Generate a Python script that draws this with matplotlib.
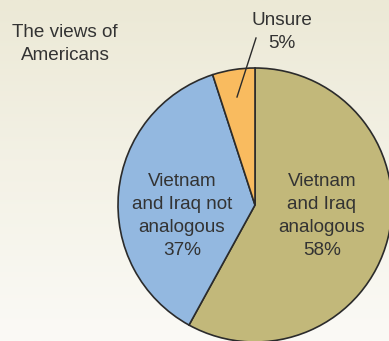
import numpy as np
import matplotlib.pyplot as plt

labels = ["Vietnam\nand Iraq\nanalogous\n58%", "Vietnam\nand Iraq not\nanalogous\n37%", "Unsure\n5%"]
shares = [58, 37, 5]
colors = ["#C2B87A", "#93B8E0", "#F9BB5F"]

W, H = 389, 341
fig = plt.figure(figsize=(W / 100, H / 100), dpi=100)

# background gradient
bg = fig.add_axes([0, 0, 1, 1])
grad = np.linspace(0, 1, 256).reshape(-1, 1)
top = np.array([236, 233, 214]) / 255
bot = np.array([251, 250, 246]) / 255
img = top + (bot - top) * grad[:, :, None]
bg.imshow(img, aspect="auto", extent=[0, 1, 0, 1])
bg.axis("off")

ax = fig.add_axes([0, 0, 1, 1])
ax.patch.set_alpha(0)
cx, cy, r = 255, H - 205, 137
ax.pie(shares, colors=colors, startangle=90, counterclock=False,
       center=(cx, cy), radius=r,
       wedgeprops=dict(edgecolor="#2b2b2b", linewidth=1.2))
ax.set_xlim(0, W)
ax.set_ylim(0, H)
ax.axis("off")

txt = dict(ha="center", va="center", color="#333333", fontsize=13.6,
           family="Liberation Sans", linespacing=1.45)
ax.text(322, H - 216, labels[0], **txt)
ax.text(182, H - 216, labels[1], **txt)
ax.text(282, H - 32, labels[2], **txt)
ax.text(65, H - 44, "The views of\nAmericans", **txt)
ax.plot([256, 237], [H - 38, H - 97], color="#2b2b2b", lw=1)

fig.savefig("out.png", dpi=100)
